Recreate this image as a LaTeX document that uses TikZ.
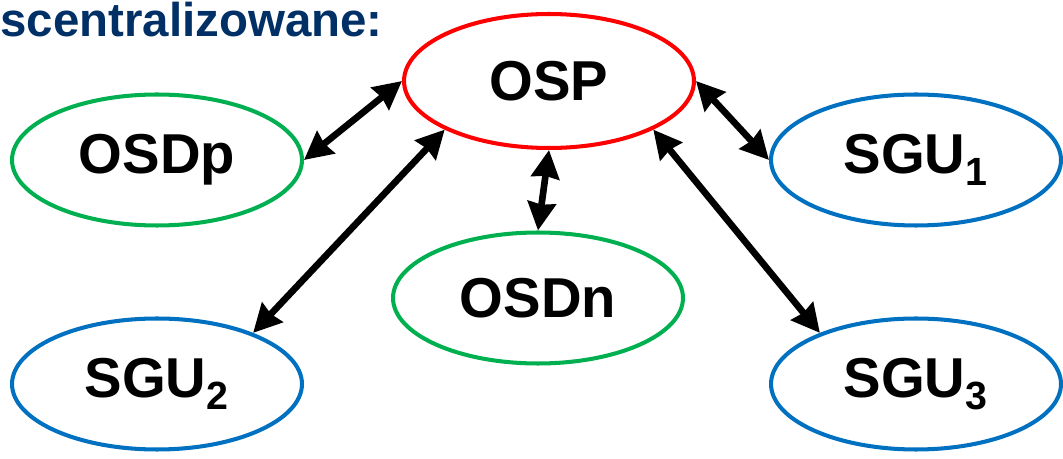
\documentclass[tikz,border=0pt]{standalone}
\usepackage{fontspec}
\setmainfont{Liberation Sans}
\definecolor{OSPred}{RGB}{255,0,0}
\definecolor{OSDgreen}{RGB}{0,176,80}
\definecolor{SGUblue}{RGB}{0,112,192}
\definecolor{TitleNavy}{RGB}{0,48,102}
\usetikzlibrary{shapes.geometric, arrows.meta, positioning}

\begin{document}
\begin{tikzpicture}[
    x=0.02cm, y=-0.02cm,
    oval/.style={ellipse, draw, line width=2.3pt, fill=white,
                 minimum width=5.8cm, minimum height=2.62cm,
                 font=\fontsize{32}{38}\selectfont\bfseries, inner sep=0pt},
    ospbox/.style={oval, draw=OSPred, minimum height=2.68cm},
    osdbox/.style={oval, draw=OSDgreen},
    sgubox/.style={oval, draw=SGUblue},
    arr/.style={{Stealth[length=0.56cm, width=0.56cm, inset=0.04cm]}-{Stealth[length=0.56cm, width=0.56cm, inset=0.04cm]},
                line width=3.8pt, black}
  ]
    \useasboundingbox (0,0) rectangle (1063,459);

    \node[anchor=north west, inner sep=0pt, text=TitleNavy,
          font=\fontsize{27}{32}\selectfont\bfseries] (title) at (0,2) {scentralizowane:};

    \node[ospbox] (osp)  at (549,81)  {OSP};
    \node[osdbox] (osdp) at (157,160) {OSDp};
    \node[osdbox] (osdn) at (538,298) {OSDn};
    \node[sgubox] (sgu1) at (916,160) {SGU\textsubscript{1}};
    \node[sgubox] (sgu2) at (157,384) {SGU\textsubscript{2}};
    \node[sgubox] (sgu3) at (916,384) {SGU\textsubscript{3}};

    \draw[arr] (osp.west)  -- (osdp.east);
    \draw[arr] (osp.south) -- (osdn.north);
    \draw[arr] (osp.205)   -- (sgu2.28);
    \draw[arr] (osp.east)  -- (sgu1.west);
    \draw[arr] (osp.-25)   -- (sgu3.152);
\end{tikzpicture}
\end{document}
